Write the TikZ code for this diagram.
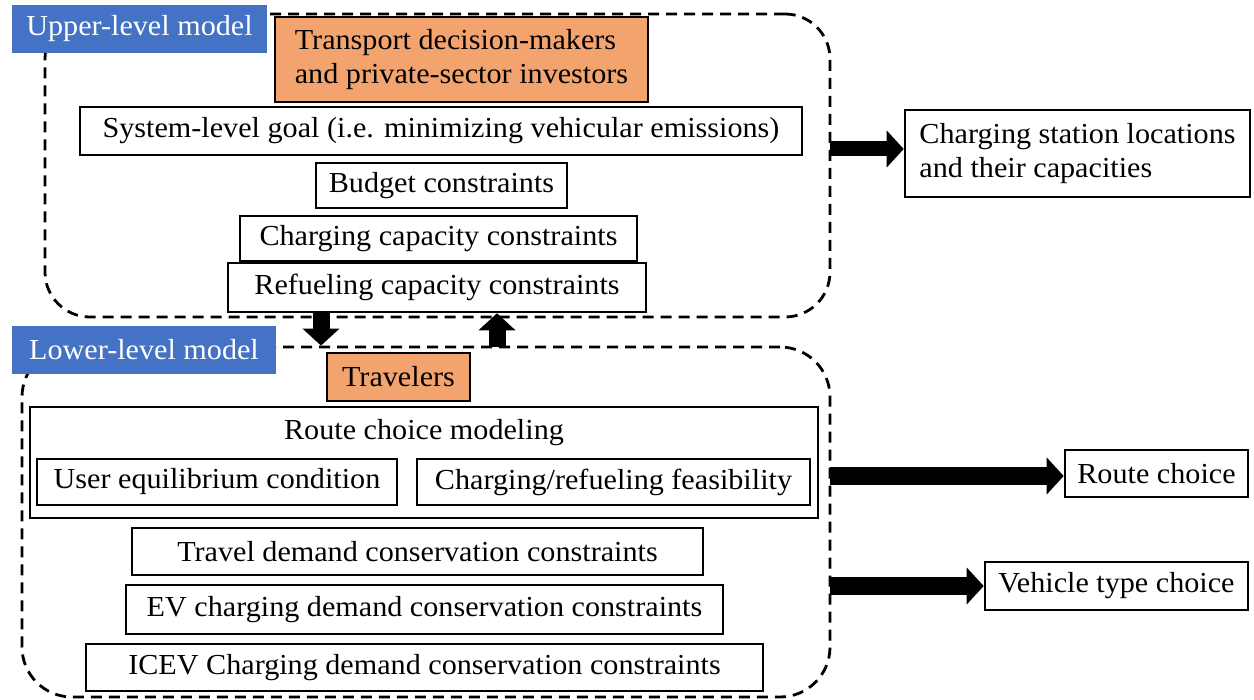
\documentclass[tikz,border=0pt]{standalone}
\usepackage{fontspec}
\setmainfont{Liberation Serif}[FakeStretch=1.04]
\usepackage{xcolor}
\usepackage{tikz}
\usetikzlibrary{arrows.meta}
\definecolor{modelblue}{HTML}{4472C4}
\definecolor{actororange}{HTML}{F2A36E}
\newcommand{\bigtext}{\fontsize{29}{34}\selectfont}
\newcommand{\fatarrow}[3][17]{
\draw[line width=#1pt, -{Triangle[length=17pt,width=37pt,line width=0pt]}] (#2) -- (#3);
}
\tikzset{
box/.style={draw, line width=2.6pt, inner sep=0pt, font=\bigtext},
actor/.style={box, fill=actororange},
level/.style={fill=modelblue, text=white, inner sep=0pt, font=\bigtext},
model/.style={draw, dash pattern=on 11pt off 7pt, line width=2.8pt, inner sep=0pt}
}

\begin{document}
\begin{tikzpicture}[x=1pt, y=-1pt]
\useasboundingbox (0,0) rectangle (1254,700);
% dashed model frames
\node[model, rounded corners=45pt, minimum width=785, minimum height=303] at (437.5,165.5) (upper) {};
\node[model, rounded corners=50pt, minimum width=808, minimum height=350] at (426,522) (lower) {};
\node[level, minimum width=255, minimum height=48] at (139.5,29) (ulabel) {Upper-level model};
\node[level, minimum width=264, minimum height=48] at (144,350) (llabel) {Lower-level model};
% upper level
\node[actor, minimum width=373, minimum height=85, align=left] at (461.5,59.5) (tdm) {Transport decision-makers\\and private-sector investors};
\node[box, minimum width=722, minimum height=48] at (441,131) (goal) {System-level goal (i.e. minimizing vehicular emissions)};
\node[box, minimum width=251, minimum height=45] at (441.5,185.5) (budget) {Budget constraints};
\node[box, minimum width=397, minimum height=45] at (438.5,238.5) (chcap) {Charging capacity constraints};
\node[box, minimum width=418, minimum height=49] at (437,287.5) (refcap) {Refueling capacity constraints};
% lower level
\node[actor, minimum width=143, minimum height=48] at (398.5,377) (travelers) {Travelers};
\node[box, minimum width=788, minimum height=111] at (424,462.5) (rcm) {};
\node[font=\bigtext] at (424,433) (rcmtext) {Route choice modeling};
\node[box, minimum width=360, minimum height=46] at (217,482) (ue) {User equilibrium condition};
\node[box, minimum width=393, minimum height=46] at (613.5,482) (crf) {Charging/refueling feasibility};
\node[box, minimum width=571, minimum height=47] at (417.5,551.5) (tdc) {Travel demand conservation constraints};
\node[box, minimum width=597, minimum height=49] at (424.5,609.5) (evc) {EV charging demand conservation constraints};
\node[box, minimum width=677, minimum height=47] at (424.5,667.5) (icev) {ICEV Charging demand conservation constraints};
% outputs
\node[box, minimum width=345, minimum height=87, align=left] at (1077.5,153.5) (csl) {Charging station locations\\and their capacities};
\node[box, minimum width=183, minimum height=47] at (1156.5,473.5) (rc) {Route choice};
\node[box, minimum width=263, minimum height=48] at (1116.5,586) (vtc) {Vehicle type choice};
% arrows
\coordinate (down) at (321,312);
\coordinate (up) at (497,347);
\coordinate (out1) at (830,149);
\coordinate (out2) at (830,476);
\coordinate (out3) at (830,586);
\fatarrow{down}{down |- lower.north}
\fatarrow{up}{up |- refcap.south}
\fatarrow[15]{out1}{csl.west |- out1}
\fatarrow[18]{out2}{rc.west |- out2}
\fatarrow[18]{out3}{vtc.west |- out3}
\end{tikzpicture}
\end{document}
